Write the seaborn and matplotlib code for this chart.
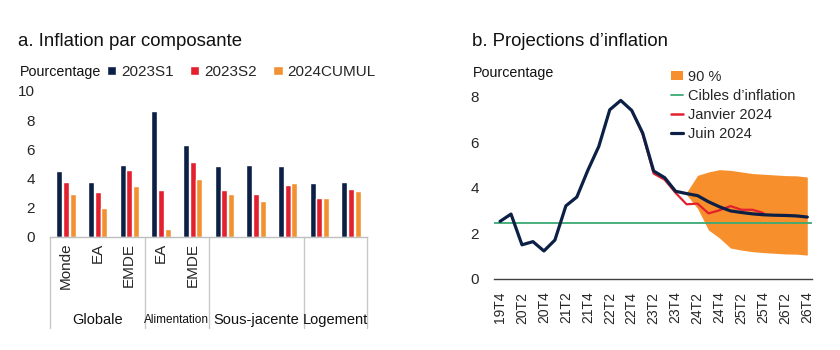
import numpy as np
import pandas as pd
import matplotlib
matplotlib.use("Agg")
import matplotlib.pyplot as plt
import matplotlib.transforms as mtransforms
from matplotlib.patches import Patch
from matplotlib.lines import Line2D
import seaborn as sns

sns.set_theme(style="white")
plt.rcParams["font.family"] = ["Liberation Sans", "DejaVu Sans"]

# ---------------- data: panel a ----------------
cat_keys = ["G_Monde", "G_EA", "G_EMDE", "A_EA", "A_EMDE",
            "S_1", "S_2", "S_3", "L_1", "L_2"]
tick_labels = ["Monde", "EA", "EMDE", "EA", "EMDE", "", "", "", "", ""]
series_names = ["2023S1", "2023S2", "2024CUMUL"]
s1 = [4.5, 3.8, 4.9, 8.6, 6.3, 4.85, 4.9, 4.85, 3.7, 3.8]
s2 = [3.75, 3.05, 4.6, 3.2, 5.15, 3.2, 2.95, 3.55, 2.7, 3.3]
cumul = [2.95, 2.0, 3.5, 0.55, 4.0, 2.95, 2.5, 3.7, 2.65, 3.15]
groups = ["Globale", "Alimentation", "Sous-jacente", "Logement"]
group_bounds = [(-0.5, 2.5), (2.5, 4.5), (4.5, 7.5), (7.5, 9.5)]

# ---------------- data: panel b ----------------
quarters = ["19T4", "20T1", "20T2", "20T3", "20T4", "21T1", "21T2", "21T3", "21T4",
            "22T1", "22T2", "22T3", "22T4", "23T1", "23T2", "23T3", "23T4",
            "24T1", "24T2", "24T3", "24T4", "25T1", "25T2", "25T3", "25T4",
            "26T1", "26T2", "26T3", "26T4"]
juin_2024 = [2.53, 2.85, 1.5, 1.64, 1.23, 1.71, 3.21, 3.6, 4.77, 5.82, 7.43, 7.84,
             7.4, 6.41, 4.74, 4.45, 3.85, 3.75, 3.66, 3.39, 3.17, 2.99, 2.92, 2.86,
             2.82, 2.8, 2.79, 2.77, 2.72]
janv_start = 12
janv_2024 = [7.4, 6.35, 4.63, 4.36, 3.78, 3.28, 3.31, 2.88, 3.02, 3.2, 3.04, 3.04, 2.9]
band_start = 17
band_upper = [3.8, 4.55, 4.7, 4.8, 4.77, 4.7, 4.63, 4.6, 4.57, 4.54, 4.53, 4.48]
band_lower = [3.7, 3.1, 2.15, 1.8, 1.36, 1.27, 1.2, 1.16, 1.13, 1.1, 1.09, 1.05]
target = 2.47

NAVY = "#0c1f45"
RED = "#e3202e"
ORANGE = "#f29132"
BAND = "#f7902c"
GREEN = "#3aaa73"

fig = plt.figure(figsize=(8.4, 3.5), dpi=100)
W, H = 840, 350

def ax_rect(x0, x1, ytop, ybot):
    return [x0 / W, 1 - ybot / H, (x1 - x0) / W, (ybot - ytop) / H]

# ---------------- panel a ----------------
axa = fig.add_axes(ax_rect(50, 367, 91, 237))
df = pd.DataFrame({
    "cat": cat_keys * 3,
    "serie": sum([[n] * len(cat_keys) for n in series_names], []),
    "val": s1 + s2 + cumul,
})
sns.barplot(data=df, x="cat", y="val", hue="serie", order=cat_keys,
            hue_order=series_names, palette=[NAVY, RED, ORANGE],
            width=0.63, gap=0.1, ax=axa, saturation=1, legend=True)
handles, labels = axa.get_legend_handles_labels()
axa.get_legend().remove()
axa.set_xlim(-0.5, 9.5)
axa.set_ylim(0, 10)
axa.set_yticks([0, 2, 4, 6, 8, 10])
axa.set_xlabel("")
axa.set_ylabel("")
axa.set_xticks(range(len(cat_keys)))
axa.set_xticklabels(tick_labels, rotation=90, va="top", ha="center", fontsize=11)
axa.tick_params(axis="x", length=0, pad=4)
axa.tick_params(axis="y", length=0, pad=11, labelsize=11)
for sp in ["top", "right", "left"]:
    axa.spines[sp].set_visible(False)
axa.spines["bottom"].set_color("#bfbfbf")
axa.spines["bottom"].set_linewidth(1.0)
trans = mtransforms.blended_transform_factory(axa.transData, axa.transAxes)
ybot_ax = -(328 - 237) / 146
for xb in [-0.5, 2.5, 4.5, 7.5, 9.5]:
    axa.plot([xb, xb], [0, ybot_ax], transform=trans, color="#c8c8c8",
             lw=1.0, clip_on=False)
ylab_ax = -(320 - 237) / 146
for g, (a0, a1) in zip(groups, group_bounds):
    axa.text((a0 + a1) / 2, ylab_ax, g, transform=trans, ha="center",
             va="center", fontsize=8.5 if g == "Alimentation" else 10.5,
             color="#111111")

fig.text(20 / W, 1 - 72 / H, "Pourcentage", fontsize=10.3, va="center",
         ha="left", color="#111111")
fig.legend(handles, labels, loc="center left",
           bbox_to_anchor=(107 / W, 1 - 72 / H), ncol=3, frameon=False,
           fontsize=11, handlelength=0.6, handleheight=0.6,
           handletextpad=0.3, columnspacing=1.1, borderpad=0,
           borderaxespad=0)
fig.text(18 / W, 1 - 42 / H, "a. Inflation par composante", fontsize=13.4,
         va="center", ha="left", color="#111111")

# ---------------- panel b ----------------
axb = fig.add_axes(ax_rect(494, 812, 74, 279))
xq = np.arange(len(quarters))
dfb = pd.DataFrame({"x": xq, "juin": juin_2024})
dfj = pd.DataFrame({"x": xq[janv_start:janv_start + len(janv_2024)],
                    "janv": janv_2024})
xb = xq[band_start:band_start + len(band_upper)]
axb.fill_between(xb, band_lower, band_upper, color=BAND, lw=0)
axb.axhline(target, color=GREEN, lw=1.3)
sns.lineplot(data=dfj, x="x", y="janv", color=RED, lw=1.6, ax=axb)
sns.lineplot(data=dfb, x="x", y="juin", color=NAVY, lw=2.3, ax=axb)
axb.set_xlim(-0.55, 28.43)
axb.set_ylim(0, 9)
axb.set_yticks([0, 2, 4, 6, 8])
axb.set_xticks(xq[::2])
axb.set_xticklabels(quarters[::2], rotation=90, va="top", ha="center",
                    fontsize=10)
axb.set_xlabel("")
axb.set_ylabel("")
axb.tick_params(axis="x", length=0, pad=9)
axb.tick_params(axis="y", length=0, pad=11, labelsize=11)
for sp in ["top", "right", "left"]:
    axb.spines[sp].set_visible(False)
axb.spines["bottom"].set_color("#404040")
axb.spines["bottom"].set_linewidth(1.0)

fig.text(473 / W, 1 - 73 / H, "Pourcentage", fontsize=10.3, va="center",
         ha="left", color="#111111")
fig.text(472 / W, 1 - 42 / H, "b. Projections d\u2019inflation", fontsize=13.4,
         va="center", ha="left", color="#111111")

leg_handles = [Patch(facecolor=BAND, edgecolor="none"),
               Line2D([], [], color=GREEN, lw=1.3),
               Line2D([], [], color=RED, lw=1.8),
               Line2D([], [], color=NAVY, lw=2.3)]
leg_labels = ["90 %", "Cibles d\u2019inflation", "Janvier 2024", "Juin 2024"]
fig.legend(leg_handles, leg_labels, loc="upper left",
           bbox_to_anchor=(671 / W, 1 - 70 / H), frameon=False,
           fontsize=10.5, handlelength=0.8, handleheight=0.6,
           handletextpad=0.4, labelspacing=0.35, borderpad=0,
           borderaxespad=0)

fig.savefig("out.png", dpi=100)
